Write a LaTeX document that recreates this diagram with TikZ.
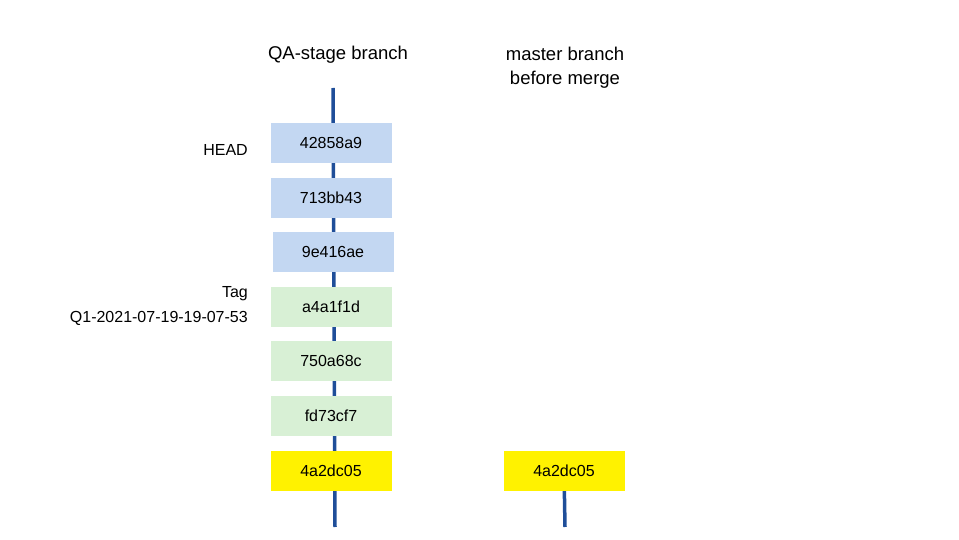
\documentclass[tikz,border=0pt]{standalone}
\usepackage{fontspec}
\setmainfont{Liberation Sans}
\begin{document}
\begin{tikzpicture}[x=1pt,y=-1pt,
  commit/.style={minimum width=121pt,minimum height=40pt,inner sep=0pt,font=\fontsize{16}{19}\selectfont},
  bluec/.style={commit,fill=boxblue},
  greenc/.style={commit,fill=boxgreen},
  yellowc/.style={commit,fill=yellow},
  branchline/.style={draw=lineblue,line width=3.5pt},
  hdr/.style={align=center,font=\fontsize{18.5}{24}\selectfont,inner sep=0pt},
  lbl/.style={align=right,font=\fontsize{16}{25}\selectfont,inner sep=0pt,anchor=east}]
\definecolor{boxblue}{HTML}{C3D7F2}
\definecolor{boxgreen}{HTML}{D8F0D5}
\definecolor{lineblue}{HTML}{1F4E99}
\useasboundingbox (0,0) rectangle (959,540);
\coordinate (qtop) at (333,88);
\coordinate (qbot) at (335,527);
\coordinate (mtop) at (564,471);
\coordinate (mbot) at (565,527);
\draw[branchline] (qtop) -- (qbot);
\draw[branchline] (mtop) -- (mbot);
\node[yellowc] (m1) at (564,471) {4a2dc05};
\node[bluec] (c1) at (331,143) {42858a9};
\node[bluec] (c2) at (331,198) {713bb43};
\node[bluec] (c3) at (333,252) {9e416ae};
\node[greenc] (c4) at (331,307) {a4a1f1d};
\node[greenc] (c5) at (331,361) {750a68c};
\node[greenc] (c6) at (331,416) {fd73cf7};
\node[yellowc] (c7) at (331,471) {4a2dc05};
\node[hdr] (h1) at (338,55) {QA-stage branch};
\node[hdr] (h2) at (565,68) {master branch\\before merge};
\node[lbl] (head) at (248,150) {HEAD};
\node[lbl] (tag) at (248,306) {Tag\\Q1-2021-07-19-19-07-53};
\end{tikzpicture}
\end{document}
